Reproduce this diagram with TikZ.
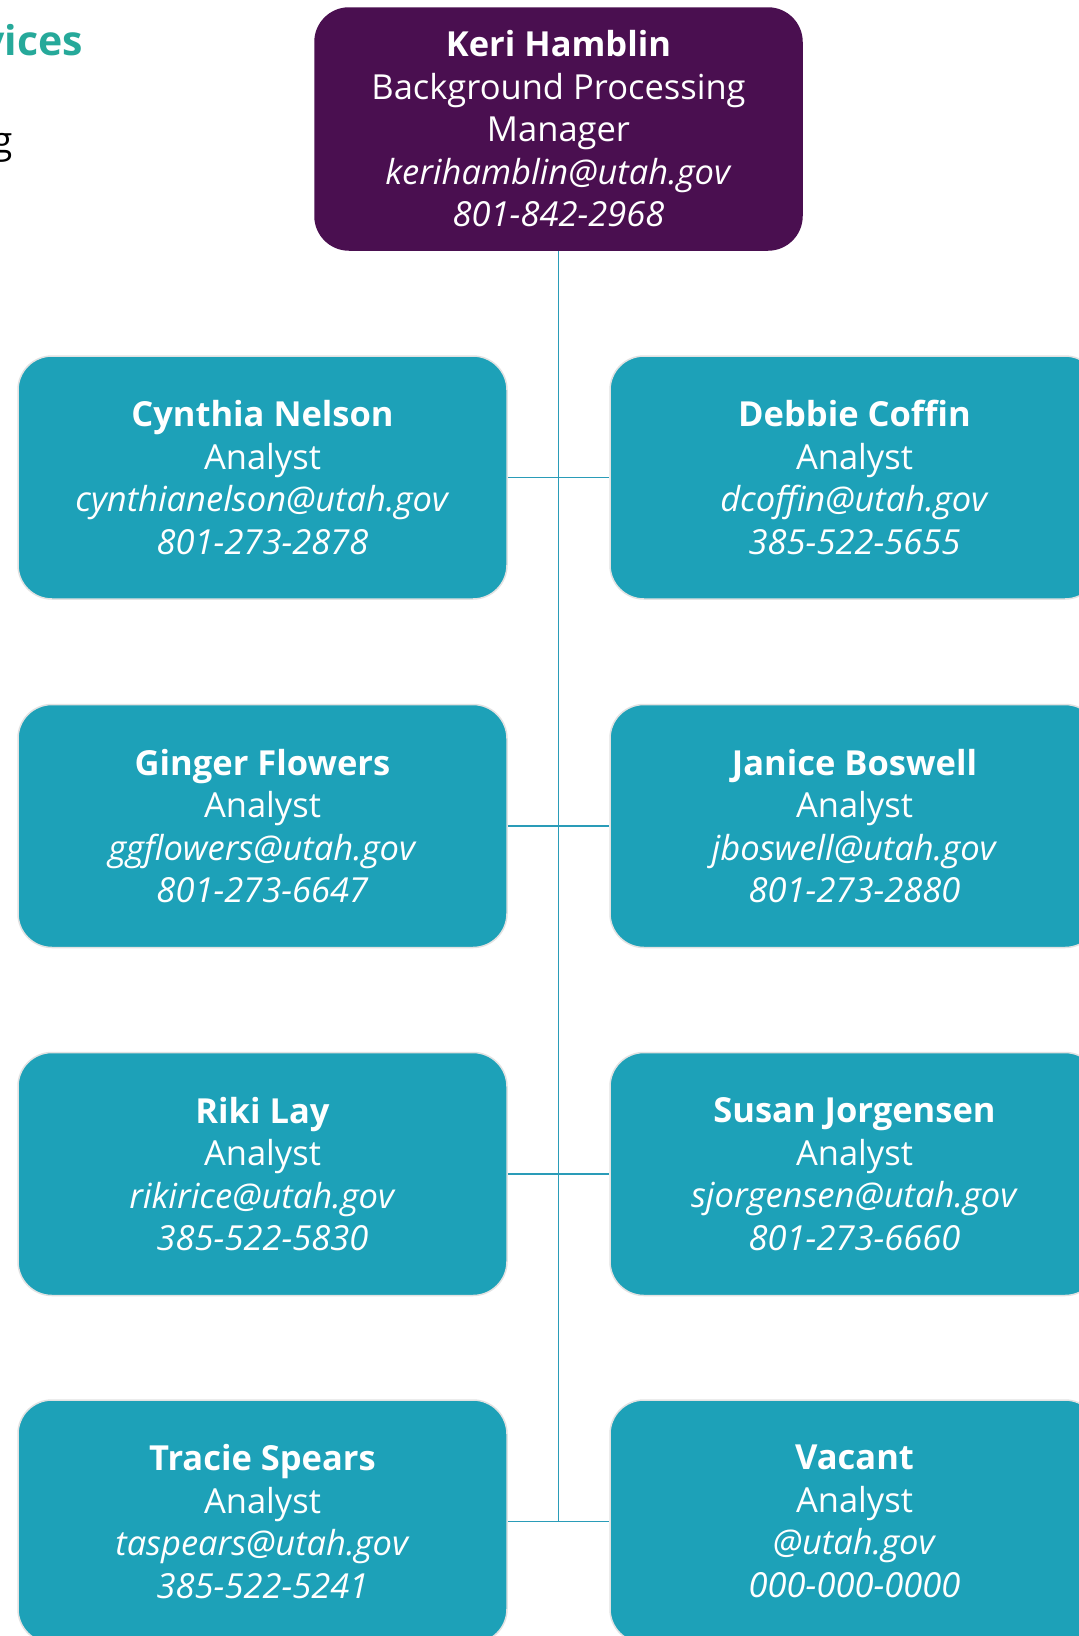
\documentclass[tikz,border=0pt]{standalone}
\usepackage{fontspec}
\setmainfont{Open Sans}
\definecolor{mgr}{HTML}{4A0F50}
\definecolor{tealbox}{HTML}{1DA1B8}
\definecolor{linec}{HTML}{2A9CB8}
\definecolor{hdr}{HTML}{26A99A}
\definecolor{edgec}{HTML}{E2E2E2}
\begin{document}
\begin{tikzpicture}[x=1pt,y=-1pt,
  card/.style={rounded corners=34pt, minimum width=489pt, minimum height=243pt,
    align=center, text=white, fill=tealbox, draw=edgec, line width=1.5pt,
    inner sep=0pt, font=\fontsize{34.5}{42.5}\selectfont},
  boss/.style={card, fill=mgr, draw=mgr, minimum width=487pt, minimum height=242pt},
  conn/.style={draw=linec, line width=1.5pt}]
\useasboundingbox (0,0) rectangle (1079,1636);
\fill[white] (0,0) rectangle (1079,1636);

\node[anchor=base east, text=hdr, inner sep=0pt, font=\fontsize{41}{48}\selectfont\bfseries] (h1) at (83,55) {vices};
\node[anchor=base east, text=black, inner sep=0pt, font=\fontsize{37}{44}\selectfont] (h2) at (13,153) {g};

\node[boss] (top) at (558.5,129) {\textbf{Keri Hamblin}\\Background Processing\\Manager\\\textit{kerihamblin@utah.gov}\\\textit{801-842-2968}};

\node[card] (L1) at (262.5,477.5) {\textbf{Cynthia Nelson}\\Analyst\\\textit{cynthianelson@utah.gov}\\\textit{801-273-2878}};
\node[card] (R1) at (854.5,477.5) {\textbf{Debbie Coffin}\\Analyst\\\textit{dcoffin@utah.gov}\\\textit{385-522-5655}};
\node[card] (L2) at (262.5,826) {\textbf{Ginger Flowers}\\Analyst\\\textit{ggflowers@utah.gov}\\\textit{801-273-6647}};
\node[card] (R2) at (854.5,826) {\textbf{Janice Boswell}\\Analyst\\\textit{jboswell@utah.gov}\\\textit{801-273-2880}};
\node[card] (L3) at (262.5,1174) {\textbf{Riki Lay}\\Analyst\\\textit{rikirice@utah.gov}\\\textit{385-522-5830}};
\node[card] (R3) at (854.5,1174) {\textbf{Susan Jorgensen}\\Analyst\\\textit{sjorgensen@utah.gov}\\\textit{801-273-6660}};
\node[card] (L4) at (262.5,1521.5) {\textbf{Tracie Spears}\\Analyst\\\textit{taspears@utah.gov}\\\textit{385-522-5241}};
\node[card] (R4) at (854.5,1521.5) {\textbf{Vacant}\\Analyst\\\textit{@utah.gov}\\\textit{000-000-0000}};

\coordinate (vend) at (558.5,1521.5);
\draw[conn] (top.south) -- (vend);
\draw[conn] (L1.east) -- (R1.west);
\draw[conn] (L2.east) -- (R2.west);
\draw[conn] (L3.east) -- (R3.west);
\draw[conn] (L4.east) -- (R4.west);
\end{tikzpicture}
\end{document}
